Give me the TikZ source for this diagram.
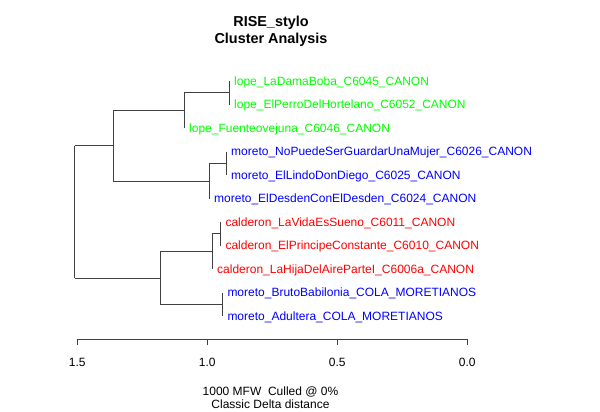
\documentclass[tikz,border=0pt]{standalone}
\usepackage{fontspec}
\setmainfont{Liberation Sans}
\definecolor{rgreen}{RGB}{0,255,0}
\definecolor{rblue}{RGB}{0,0,255}
\definecolor{rred}{RGB}{255,0,0}
\begin{document}
\begin{tikzpicture}[x=1pt,y=-1pt,
  edge/.style={draw=black!75,line width=0.6pt},
  leaf/.style={anchor=base west,inner sep=0pt,font=\fontsize{12}{14}\selectfont},
  lope/.style={leaf,text=rgreen},
  mor/.style={leaf,text=rblue},
  cal/.style={leaf,text=rred},
  ticklab/.style={inner sep=0pt,font=\fontsize{12}{14}\selectfont},
  titlefont/.style={font=\fontsize{14.4}{17}\selectfont\bfseries,align=center,inner sep=0pt},
  subfont/.style={font=\fontsize{12}{13}\selectfont,align=center,inner sep=0pt}]
\useasboundingbox (0,0) rectangle (600,412);
% leaf coordinates (y = 81 + 23.5*(i-1))
\coordinate (l1) at (229,81);
\coordinate (l2) at (229,104.5);
\coordinate (l3) at (184,128);
\coordinate (l4) at (226,151.5);
\coordinate (l5) at (226,175);
\coordinate (l6) at (209,198.5);
\coordinate (l7) at (220.3,222);
\coordinate (l8) at (220.3,245.5);
\coordinate (l9) at (212,269);
\coordinate (l10) at (222.3,292.5);
\coordinate (l11) at (222.3,316);
% internal nodes
\coordinate (n12) at (229,92.75);
\coordinate (nL) at (184,110.375);
\coordinate (n45) at (226,163.25);
\coordinate (nM) at (209,180.875);
\coordinate (nT) at (113,145.625);
\coordinate (n78) at (220.3,233.75);
\coordinate (nC) at (212,251.375);
\coordinate (n1011) at (222.3,304.25);
\coordinate (nD) at (160,277.8125);
\coordinate (root) at (74.7,211.72);
% edges
\draw[edge] (l1) -- (l2);
\draw[edge] (nL |- n12) -- (n12);
\draw[edge] (nL |- n12) -- (l3);
\draw[edge] (l4) -- (l5);
\draw[edge] (nM |- n45) -- (n45);
\draw[edge] (nM |- n45) -- (l6);
\draw[edge] (nT |- nL) -- (nL);
\draw[edge] (nT |- nM) -- (nM);
\draw[edge] (nT |- nL) -- (nT |- nM);
\draw[edge] (l7) -- (l8);
\draw[edge] (nC |- n78) -- (n78);
\draw[edge] (nC |- n78) -- (l9);
\draw[edge] (l10) -- (l11);
\draw[edge] (nD |- nC) -- (nC);
\draw[edge] (nD |- n1011) -- (n1011);
\draw[edge] (nD |- nC) -- (nD |- n1011);
\draw[edge] (root |- nT) -- (nT);
\draw[edge] (root |- nD) -- (nD);
\draw[edge] (root |- nT) -- (root |- nD);
% labels
\node[lope] (t1) at ([xshift=5pt,yshift=-4.3pt]l1) {lope\_LaDamaBoba\_C6045\_CANON};
\node[lope] (t2) at ([xshift=5pt,yshift=-4.3pt]l2) {lope\_ElPerroDelHortelano\_C6052\_CANON};
\node[lope] (t3) at ([xshift=5pt,yshift=-4.3pt]l3) {lope\_Fuenteovejuna\_C6046\_CANON};
\node[mor] (t4) at ([xshift=5pt,yshift=-4.3pt]l4) {moreto\_NoPuedeSerGuardarUnaMujer\_C6026\_CANON};
\node[mor] (t5) at ([xshift=5pt,yshift=-4.3pt]l5) {moreto\_ElLindoDonDiego\_C6025\_CANON};
\node[mor] (t6) at ([xshift=5pt,yshift=-4.3pt]l6) {moreto\_ElDesdenConElDesden\_C6024\_CANON};
\node[cal] (t7) at ([xshift=5pt,yshift=-4.3pt]l7) {calderon\_LaVidaEsSueno\_C6011\_CANON};
\node[cal] (t8) at ([xshift=5pt,yshift=-4.3pt]l8) {calderon\_ElPrincipeConstante\_C6010\_CANON};
\node[cal] (t9) at ([xshift=5pt,yshift=-4.3pt]l9) {calderon\_LaHijaDelAireParteI\_C6006a\_CANON};
\node[mor] (t10) at ([xshift=5pt,yshift=-4.3pt]l10) {moreto\_BrutoBabilonia\_COLA\_MORETIANOS};
\node[mor] (t11) at ([xshift=5pt,yshift=-4.3pt]l11) {moreto\_Adultera\_COLA\_MORETIANOS};
% axis
\coordinate (a15) at (77.3,339);
\coordinate (a10) at (207.3,339);
\coordinate (a05) at (337.3,339);
\coordinate (a00) at (467.3,339);
\draw[edge] (a15) -- (a00);
\foreach \c in {a15,a10,a05,a00} \draw[edge] (\c) -- ++(0,6);
\node[ticklab] (k15) at (77.3,362) {1.5};
\node[ticklab] (k10) at (207.3,362) {1.0};
\node[ticklab] (k05) at (337.3,362) {0.5};
\node[ticklab] (k00) at (467.3,362) {0.0};
% titles
\node[titlefont] (title) at (271,31) {RISE\_stylo\\Cluster Analysis};
\node[subfont] (sub) at (270.5,397.5) {1000 MFW\ \ Culled @ 0\%\\Classic Delta distance};
\end{tikzpicture}
\end{document}
